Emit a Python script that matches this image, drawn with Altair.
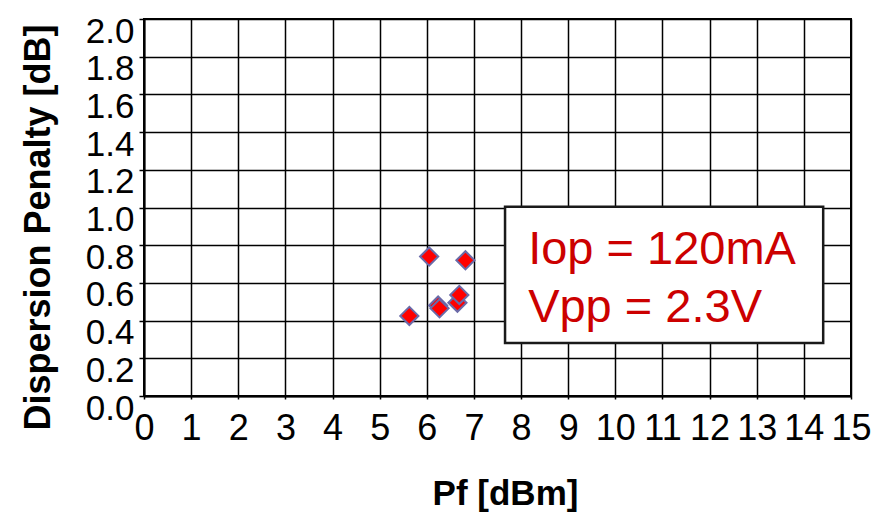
import altair as alt
import pandas as pd

# Data
pf_dbm = [5.63, 6.05, 6.24, 6.27, 6.65, 6.69, 6.82]
penalty_db = [0.425, 0.74, 0.48, 0.465, 0.495, 0.536, 0.72]

x_ticks = list(range(0, 16))
y_ticks = [round(i * 0.2, 1) for i in range(0, 11)]

note_lines = ["Iop = 120mA", "Vpp = 2.3V"]
note_x = [8.15, 8.15]
note_y = [0.70, 0.395]
box_x = [7.66]
box_x2 = [14.41]
box_y = [0.281]
box_y2 = [1.004]

pts = pd.DataFrame({"pf": pf_dbm, "dp": penalty_db})
notes = pd.DataFrame({"t": note_lines, "x": note_x, "y": note_y})
box = pd.DataFrame({"x": box_x, "x2": box_x2, "y": box_y, "y2": box_y2})

FONT = "Liberation Sans"

xscale = alt.Scale(domain=[0, 15], nice=False, zero=False)
yscale = alt.Scale(domain=[0, 2.0], nice=False, zero=False)

xaxis = alt.Axis(
    title="Pf [dBm]", values=x_ticks, format="d",
    grid=True, gridColor="black", gridWidth=1.5, gridOpacity=1,
    domainColor="black", domainWidth=2,
    ticks=True, tickSize=3, tickColor="black", tickWidth=1.5,
    labelFont=FONT, labelFontSize=36, labelColor="black", labelPadding=12,
    labelFlush=False, labelOverlap=False,
    titleFont=FONT, titleFontSize=35, titleFontWeight="bold", titleColor="black",
    titleX=361, titleY=97, titleBaseline="middle", titleAlign="center",
)
yaxis = alt.Axis(
    title="Dispersion Penalty [dB]", values=y_ticks, format=".1f",
    grid=True, gridColor="black", gridWidth=1.5, gridOpacity=1,
    domainColor="black", domainWidth=2,
    ticks=True, tickSize=5, tickColor="black", tickWidth=1.5,
    labelFont=FONT, labelFontSize=35, labelColor="black", labelPadding=5,
    labelOffset=12, labelFlush=False, labelOverlap=False, labelBound=False,
    titleFont=FONT, titleFontSize=36, titleFontWeight="bold", titleColor="black",
    titleX=-106, titleY=208, titleBaseline="middle", titleAlign="center", titleAngle=-90,
)

points = alt.Chart(pts).mark_point(
    shape="diamond", filled=True, fill="#ff0000", stroke="#6a6aa8",
    strokeWidth=2, size=330, opacity=1
).encode(
    x=alt.X("pf:Q", scale=xscale, axis=xaxis),
    y=alt.Y("dp:Q", scale=yscale, axis=yaxis),
)

rect = alt.Chart(box).mark_rect(
    fill="white", stroke="#1a1a1a", strokeWidth=2.5
).encode(
    x=alt.X("x:Q", scale=xscale, axis=xaxis), x2="x2:Q",
    y=alt.Y("y:Q", scale=yscale, axis=yaxis), y2="y2:Q",
)

text = alt.Chart(notes).mark_text(
    align="left", baseline="alphabetic", font=FONT, fontSize=47, color="#cc0000"
).encode(
    x=alt.X("x:Q", scale=xscale, axis=xaxis),
    y=alt.Y("y:Q", scale=yscale, axis=yaxis),
    text="t:N",
)

chart = alt.layer(points, rect, text).properties(
    width=707, height=377,
    padding={"left": 144, "top": 19, "right": 35, "bottom": 116},
    autosize="none", background="white",
).configure_view(stroke="black", strokeWidth=2)

chart.save("out.html", embed_options={"renderer": "svg", "actions": False})
